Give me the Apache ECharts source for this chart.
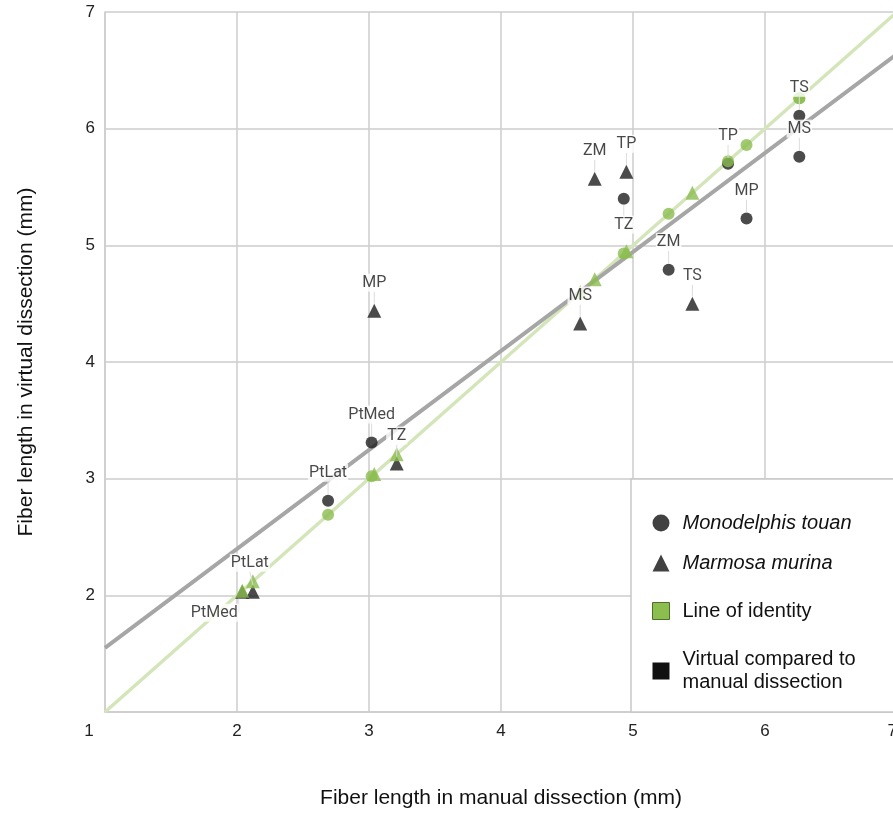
<!DOCTYPE html>
<html>
<head>
<meta charset="utf-8">
<script src="https://cdn.jsdelivr.net/npm/echarts@6/dist/echarts.min.js"></script>
<style>
  html, body { margin: 0; padding: 0; background: #fff; }
  #chart { width: 893px; height: 813px; }
</style>
</head>
<body>
<div id="chart"></div>
<script>
// Monodelphis touan (circles)
const monoNames = ['PtLat', 'PtMed', 'TZ', 'ZM', 'TP', 'MP', 'TS', 'MS'];
const monoManual = [2.69, 3.02, 4.93, 5.27, 5.72, 5.86, 6.26, 6.26];
const monoVirtual = [2.81, 3.31, 5.40, 4.79, 5.70, 5.23, 6.11, 5.76];

// Marmosa murina (triangles)
const marmNames = ['PtMed', 'PtLat', 'MP', 'TZ', 'MS', 'ZM', 'TP', 'TS'];
const marmManual = [2.04, 2.12, 3.04, 3.21, 4.60, 4.71, 4.95, 5.45];
const marmVirtual = [2.03, 2.03, 4.44, 3.13, 4.33, 5.57, 5.63, 4.50];

// lines
const identityX = [1, 7];
const identityY = [1, 7];
const fitX = [1, 7];
const fitY = [1.55, 6.64];

const BLACK = '#1e1e1e';
const GREEN = '#8bbd4f';

const chart = echarts.init(document.getElementById('chart'));

const pairs = (xs, ys) => xs.map((x, i) => [x, ys[i]]);
const named = (names, xs, ys) => names.map((n, i) => ({ name: n, value: [xs[i], ys[i]] }));

// label offsets that differ from the default (straight above the point)
const monoLabelMove = { TZ: [0, 26] };
const marmLabelMove = { PtMed: [-28, 21], PtLat: [-3, -29] };

function labelSeries(names, xs, ys, symbol, size, moves) {
  return {
    type: 'scatter',
    name: 'labels-' + symbol,
    z: 5,
    symbol: symbol,
    symbolSize: size,
    itemStyle: { color: 'rgba(0,0,0,0)' },
    silent: true,
    data: named(names, xs, ys),
    label: {
      show: true,
      position: 'inside',
      formatter: '{b}',
      color: '#1a1a1a',
      fontFamily: 'Roboto',
      fontSize: 16,
      backgroundColor: '#fff',
      padding: [1, 1]
    },
    labelLine: { show: true, lineStyle: { color: '#dcdcdc', width: 1 } },
    labelLayout: function (p) {
      const m = moves[names[p.dataIndex]] || [0, -28];
      return { dx: m[0], dy: m[1] };
    }
  };
}

const option = {
  backgroundColor: '#fff',
  animation: false,
  textStyle: { fontFamily: 'Liberation Sans' },
  grid: { left: 105, top: 12, width: 792, height: 700, outerBoundsMode: 'none', containLabel: false },
  xAxis: {
    type: 'value',
    min: 1, max: 7, interval: 1,
    name: 'Fiber length in manual dissection (mm)',
    nameLocation: 'middle',
    nameGap: 76,
    nameTextStyle: { fontSize: 21, color: '#111', fontFamily: 'Liberation Sans' },
    axisLine: { show: true, lineStyle: { color: '#cccccc', width: 1.5 } },
    axisTick: { show: false },
    splitLine: { lineStyle: { color: '#cccccc', width: 1.5 } },
    axisLabel: {
      fontSize: 17, color: '#222', margin: 11,
      showMaxLabel: true,
      alignMaxLabel: 'right',
      hideOverlap: false,
      formatter: v => (v === 1 ? '{a|1}' : String(v)),
      rich: { a: { fontSize: 17, color: '#222', padding: [0, 32, 0, 0] } }
    }
  },
  yAxis: {
    type: 'value',
    min: 1, max: 7, interval: 1,
    name: 'Fiber length in virtual dissection (mm)',
    nameLocation: 'middle',
    nameGap: 68,
    nameTextStyle: { fontSize: 21, color: '#111', fontFamily: 'Liberation Sans' },
    axisLine: { show: true, lineStyle: { color: '#cccccc', width: 1.5 } },
    axisTick: { show: false },
    splitLine: { lineStyle: { color: '#cccccc', width: 1.5 } },
    axisLabel: { fontSize: 17, color: '#222', margin: 10, showMinLabel: false }
  },
  legend: {
    orient: 'vertical',
    left: 631,
    top: 479,
    backgroundColor: '#fff',
    borderColor: '#c8c8c8',
    borderWidth: 1.5,
    padding: [33, 90, 18, 21],
    itemWidth: 17,
    itemHeight: 17,
    itemGap: 18,
    selectedMode: false,
    textStyle: { fontSize: 20, color: '#111', fontFamily: 'Liberation Sans', padding: [0, 0, 0, 8] },
    formatter: name => name === 'Virtual compared to manual dissection'
      ? 'Virtual compared to\nmanual dissection' : name,
    data: [
      { name: 'Monodelphis touan', icon: 'circle',
        itemStyle: { color: '#111', borderWidth: 0 },
        textStyle: { fontStyle: 'italic', lineHeight: 22 } },
      { name: 'Marmosa murina', icon: 'triangle',
        itemStyle: { color: '#111', borderWidth: 0 },
        textStyle: { fontStyle: 'italic', lineHeight: 22 } },
      { name: 'Line of identity', icon: 'rect',
        itemStyle: { color: GREEN, borderColor: '#4f6f2a', borderWidth: 1 },
        textStyle: { lineHeight: 38 } },
      { name: 'Virtual compared to manual dissection', icon: 'rect',
        itemStyle: { color: '#111', borderWidth: 0 },
        textStyle: { lineHeight: 23 } }
    ]
  },
  series: [
    {
      type: 'line',
      name: 'Line of identity',
      z: 1,
      symbol: 'none',
      silent: true,
      color: GREEN,
      lineStyle: { color: '#d4e5ba', width: 3.5 },
      data: pairs(identityX, identityY)
    },
    {
      type: 'line',
      name: 'Virtual compared to manual dissection',
      z: 1,
      symbol: 'none',
      silent: true,
      color: '#111',
      lineStyle: { color: '#a6a6a6', width: 4 },
      data: pairs(fitX, fitY)
    },
    {
      type: 'scatter',
      name: 'Monodelphis touan',
      z: 2,
      symbol: 'circle',
      symbolSize: 12,
      itemStyle: { color: BLACK },
      data: pairs(monoManual, monoVirtual)
    },
    {
      type: 'scatter',
      name: 'Marmosa murina',
      z: 2,
      symbol: 'triangle',
      symbolSize: 14,
      itemStyle: { color: BLACK },
      data: pairs(marmManual, marmVirtual)
    },
    {
      type: 'scatter',
      name: 'Monodelphis touan manual',
      z: 3,
      symbol: 'circle',
      symbolSize: 12,
      itemStyle: { color: GREEN },
      data: pairs(monoManual, monoManual)
    },
    {
      type: 'scatter',
      name: 'Marmosa murina manual',
      z: 3,
      symbol: 'triangle',
      symbolSize: 14,
      itemStyle: { color: GREEN },
      data: pairs(marmManual, marmManual)
    },
    labelSeries(monoNames, monoManual, monoVirtual, 'circle', 12, monoLabelMove),
    labelSeries(marmNames, marmManual, marmVirtual, 'triangle', 14, marmLabelMove)
  ]
};

chart.setOption(option);
</script>
</body>
</html>
